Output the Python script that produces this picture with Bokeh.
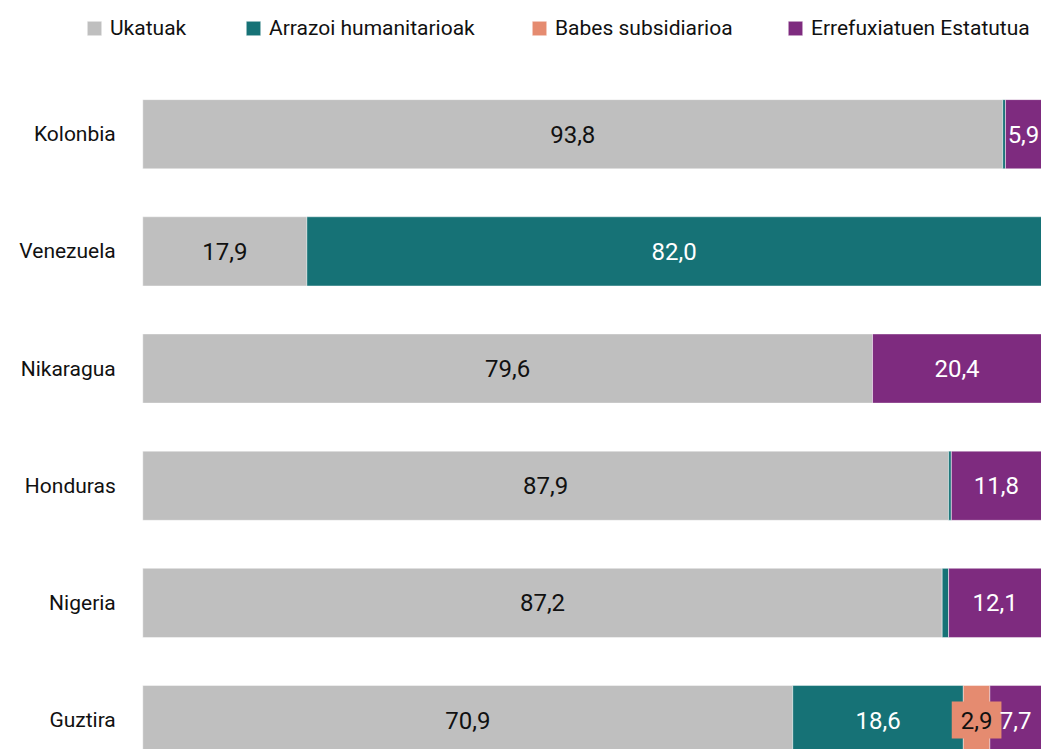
import numpy as np
from bokeh.plotting import figure
from bokeh.models import ColumnDataSource, Range1d, Legend, LegendItem
from bokeh.core.properties import value
from bokeh.embed import file_html
from bokeh.resources import INLINE

countries = ["Kolonbia", "Venezuela", "Nikaragua", "Honduras", "Nigeria", "Guztira"]
series_names = ["Ukatuak", "Arrazoi humanitarioak", "Babes subsidiarioa", "Errefuxiatuen Estatutua"]
ukatuak = [93.8, 17.9, 79.6, 87.9, 87.2, 70.9]
arrazoi = [0.3, 82.0, 0.0, 0.3, 0.7, 18.6]
babes = [0.0, 0.1, 0.0, 0.0, 0.0, 2.9]
errefux = [5.9, 0.0, 20.4, 11.8, 12.1, 7.7]

colors = ["#bfbfbf", "#167276", "#e58b70", "#7e2b7f"]
label_colors = ["#111111", "#ffffff", "#111111", "#ffffff"]
FONT = "Roboto"

X_START, X_END = -15.52, 98.03
legend_x = [85, 244, 530, 786]

keys = ["s0", "s1", "s2", "s3"]
series = [ukatuak, arrazoi, babes, errefux]
n = len(countries)
ypos = [n - 1 - i for i in range(n)]

data = {"country": countries, "y": ypos}
for k, s in zip(keys, series):
    data[k] = s
src = ColumnDataSource(data)

p = figure(width=1041, height=749,
           x_range=Range1d(X_START, X_END), y_range=Range1d(-0.251, 6.141),
           output_backend="svg", toolbar_location=None, min_border=0)
p.axis.visible = False
p.xgrid.visible = False
p.ygrid.visible = False
p.outline_line_color = None
p.background_fill_color = "white"

rends = p.hbar_stack(keys, y="y", height=0.59, color=colors, source=src,
                     line_color="white", line_width=0.6, line_alpha=0.7)

# value labels, centred on the visible part of each segment
cum = np.zeros(n)
for j, s in enumerate(series):
    arr = np.array(s)
    left = cum.copy()
    cum = cum + arr
    right = np.minimum(cum, X_END)
    centers = (left + right) / 2
    mask = arr >= 2
    lsrc = ColumnDataSource(dict(
        x=list(centers[mask]),
        y=[ypos[i] for i in range(n) if mask[i]],
        t=[f"{v:.1f}".replace(".", ",") for v in arr[mask]],
    ))
    kw = {}
    if j == 2:
        kw = dict(background_fill_color=colors[2], padding=(9, 10))
    p.text(x="x", y="y", text="t", source=lsrc, text_align="center",
           text_baseline="middle", text_color=label_colors[j],
           text_font=value(FONT), text_font_size="24px", **kw)

# category labels
p.text(x=0, y="y", text="country", source=src, x_offset=-27,
       text_align="right", text_baseline="middle", text_color="#111111",
       text_font=value(FONT), text_font_size="21px")

for nm, r, lx in zip(series_names, rends, legend_x):
    lg = Legend(items=[LegendItem(label=nm, renderers=[r])],
                orientation="horizontal", location=(lx, 709),
                glyph_width=18, glyph_height=18, label_standoff=7,
                padding=0, margin=0, border_line_color=None, background_fill_alpha=0,
                label_text_font=FONT, label_text_font_size="21px", label_text_color="#111111")
    p.add_layout(lg)

open("out.html", "w").write(file_html(p, INLINE))
